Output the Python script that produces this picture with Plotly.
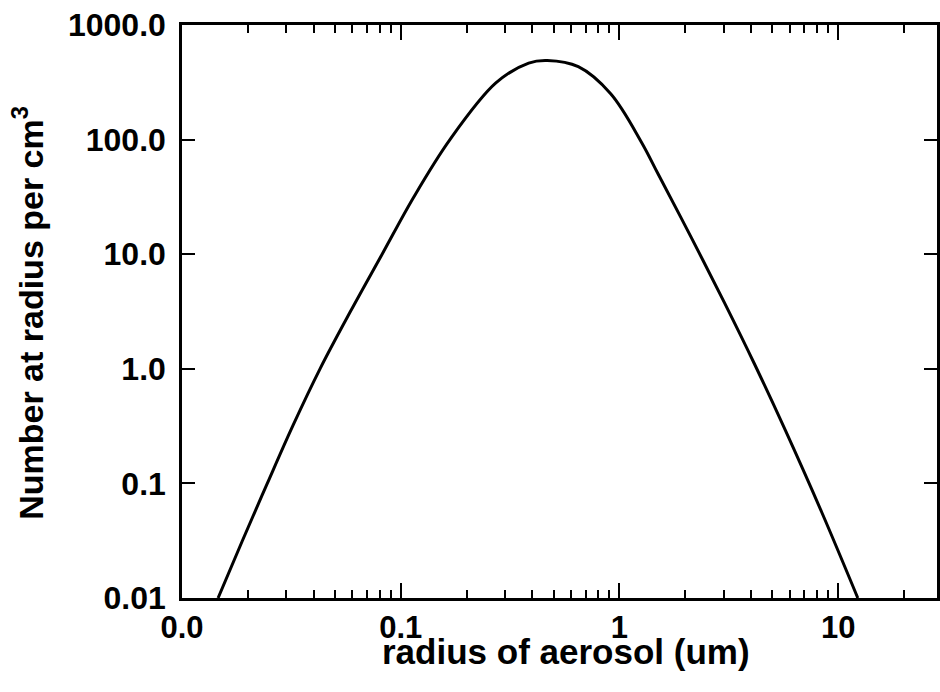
import plotly.graph_objects as go

# data (radius in um, number per cm^3)
radius = [0.01462, 0.01888, 0.02455, 0.03206, 0.04276, 0.05888, 0.08222, 0.1148, 0.1679,
          0.2723, 0.3846, 0.4677, 0.6486, 0.9120, 1.259, 1.503, 2.138, 3.020,
          4.140, 5.754, 8.414, 12.3]
number = [0.01, 0.0316, 0.1, 0.316, 1.0, 3.16, 10.0, 31.6, 100.0,
          311.9, 465.6, 489.8, 432.5, 251.2, 95.5, 50.1, 13.8, 3.78,
          1.107, 0.287, 0.056, 0.01]

x_tickvals = [0.01, 0.1, 1, 10]
x_ticktext = ["0.0", "0.1", "1", "10"]
x_minor = [m * d for d in (0.01, 0.1, 1, 10) for m in range(2, 10)]
y_tickvals = [0.01, 0.1, 1, 10, 100, 1000]
y_ticktext = ["0.01", "0.1", "1.0", "10.0", "100.0", "1000.0"]

x_title = "radius of aerosol (um)"
y_title = "Number at radius per cm<sup>3</sup>"

fig = go.Figure()
fig.add_trace(go.Scatter(x=radius, y=number, mode="lines",
                         line=dict(color="black", width=3, shape="spline", smoothing=1.0),
                         showlegend=False))

font = dict(family="Liberation Sans", color="black", weight="bold")

fig.update_layout(
    width=940, height=692,
    margin=dict(l=182, r=0, t=25, b=94),
    paper_bgcolor="white", plot_bgcolor="white",
    font=font,
    xaxis=dict(type="log", range=[-2, 1.452],
               tickvals=x_tickvals, ticktext=x_ticktext,
               ticks="inside", ticklen=15, tickwidth=2, tickcolor="black",
               minor=dict(tickvals=x_minor, ticks="inside", ticklen=8, tickwidth=2,
                          tickcolor="black", showgrid=False),
               showline=True, linecolor="black", linewidth=2.5, mirror="allticks",
               showgrid=False, zeroline=False,
               tickfont=dict(size=31, **font), ticklabelstandoff=0),
    yaxis=dict(type="log", range=[-2, 3],
               tickvals=y_tickvals, ticktext=y_ticktext,
               ticks="inside", ticklen=13, tickwidth=2, tickcolor="black",
               showline=True, linecolor="black", linewidth=2.5, mirror="allticks",
               showgrid=False, zeroline=False,
               tickfont=dict(size=32, **font), ticklabelstandoff=7),
    annotations=[
        dict(text=x_title, xref="paper", yref="paper", x=0.509, y=-0.0935,
             xanchor="center", yanchor="middle", showarrow=False,
             font=dict(size=35, **font)),
        dict(text=y_title, xref="paper", yref="paper", x=-0.2045, y=0.497,
             xanchor="center", yanchor="middle", showarrow=False, textangle=-90,
             font=dict(size=34, **font)),
    ],
)

fig.write_html("out.html")
